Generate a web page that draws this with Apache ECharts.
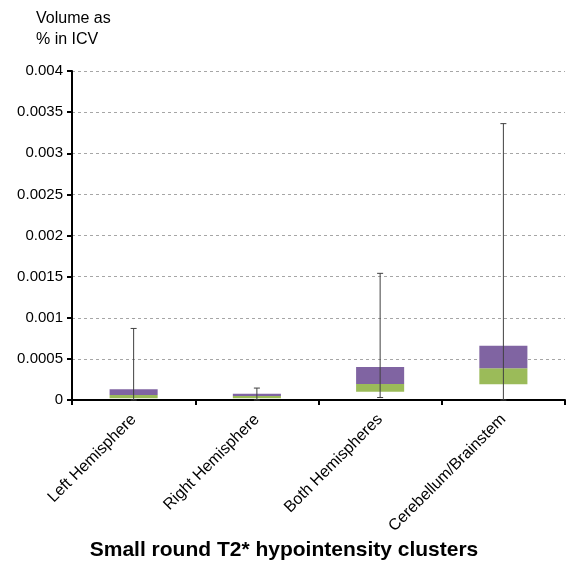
<!DOCTYPE html>
<html>
<head>
<meta charset="utf-8">
<script src="https://cdn.jsdelivr.net/npm/echarts@6/dist/echarts.min.js"></script>
<style>
  html, body { margin: 0; padding: 0; background: #fff; }
  #chart { width: 568px; height: 566px; }
</style>
</head>
<body>
<div id="chart"></div>
<script>
/*
 * 小圆形T2*低信号簇 体积箱线图
 */

// 分类
var categories = ["Left Hemisphere", "Right Hemisphere", "Both Hemispheres", "Cerebellum/Brainstem"];
// 箱线图数值 (体积 % ICV)
var minValues = [0, 0, 0.00003, 0];
var q1Values = [0.00002, 0.00002, 0.0001, 0.00019];
var medianValues = [0.00006, 0.00005, 0.000195, 0.000385];
var q3Values = [0.00013, 0.000077, 0.0004, 0.00066];
var maxValues = [0.00087, 0.000145, 0.00154, 0.00336];
// 纵轴刻度
var yTicks = [0, 0.0005, 0.001, 0.0015, 0.002, 0.0025, 0.003, 0.0035, 0.004];

var fontFamily = "Arial, 'Liberation Sans', sans-serif";

// 堆叠柱: 底部透明 + 绿色(Q1~中位数) + 紫色(中位数~Q3)
var baseData = q1Values.slice();
var lowerData = medianValues.map(function (m, i) { return m - q1Values[i]; });
var upperData = q3Values.map(function (q, i) { return q - medianValues[i]; });
var whiskerData = categories.map(function (c, i) { return [i, minValues[i], maxValues[i]]; });

function renderWhisker(params, api) {
  var idx = api.value(0);
  var top = api.coord([idx, api.value(2)]);
  var bottom = api.coord([idx, api.value(1)]);
  var cap = 3;
  var style = { stroke: "#404040", lineWidth: 1 };
  return {
    type: "group",
    children: [
      { type: "line", shape: { x1: top[0], y1: top[1], x2: bottom[0], y2: bottom[1] }, style: style },
      { type: "line", shape: { x1: top[0] - cap, y1: top[1], x2: top[0] + cap, y2: top[1] }, style: style },
      { type: "line", shape: { x1: bottom[0] - cap, y1: bottom[1], x2: bottom[0] + cap, y2: bottom[1] }, style: style }
    ]
  };
}

var options = {
  animation: false,
  backgroundColor: "#fff",
  grid: { left: 72, right: 3, top: 71, bottom: 166 },
  graphic: [
    { type: "text", left: 36, top: 8, style: { text: "Volume as\n% in ICV", font: "16px " + fontFamily, fill: "#000", lineHeight: 21 } },
    { type: "text", left: "center", top: 540, style: { text: "Small round T2* hypointensity clusters", font: "bold 21px " + fontFamily, fill: "#000" } }
  ],
  xAxis: {
    type: "category",
    data: categories,
    axisLine: { lineStyle: { color: "#000", width: 2 } },
    axisTick: { show: true, length: 5, lineStyle: { color: "#000", width: 2 } },
    axisLabel: { interval: 0, rotate: 45, fontSize: 16, fontFamily: fontFamily, color: "#000", margin: 17 },
    splitLine: { show: false }
  },
  yAxis: {
    type: "value",
    min: yTicks[0],
    max: yTicks[yTicks.length - 1],
    interval: yTicks[1] - yTicks[0],
    axisLine: { show: true, lineStyle: { color: "#000", width: 2 } },
    axisTick: { show: true, length: 5, lineStyle: { color: "#000", width: 2 } },
    axisLabel: {
      fontSize: 15, fontFamily: fontFamily, color: "#000", margin: 9,
      formatter: function (v) { return String(parseFloat(v.toFixed(4))); }
    },
    splitLine: { show: true, lineStyle: { color: "#a6a6a6", width: 1, type: [3, 3] } }
  },
  series: [
    { type: "bar", stack: "box", data: baseData, barWidth: "39%", itemStyle: { color: "transparent" }, silent: true },
    { type: "bar", stack: "box", data: lowerData, itemStyle: { color: "#9BBB59" } },
    { type: "bar", stack: "box", data: upperData, itemStyle: { color: "#8064A2" } },
    { type: "custom", data: whiskerData, renderItem: renderWhisker, z: 5 }
  ]
};

var myEchart = echarts.init(document.getElementById("chart"));
myEchart.setOption(options);
</script>
</body>
</html>
